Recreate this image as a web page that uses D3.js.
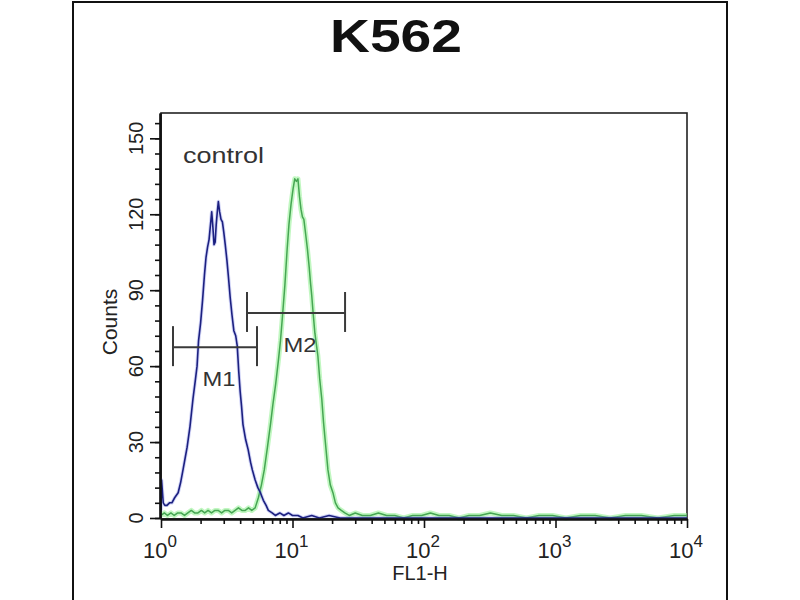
<!DOCTYPE html>
<html><head><meta charset="utf-8">
<script src="https://cdn.jsdelivr.net/npm/d3@7/dist/d3.min.js"></script>
<style>body{margin:0;background:#fff}svg{display:block}</style>
</head><body>
<svg id="c" width="800" height="600"></svg>
<script>
// ---- data ----
const title = "K562";
const sampleLabel = "control";
const xLabel = "FL1-H";
const yLabel = "Counts";
const yTicks = [0, 30, 60, 90, 120, 150];
const xDecades = [0, 1, 2, 3, 4];

// control (blue) histogram
const blueFL = [1.0,1.01,1.02,1.04,1.07,1.11,1.16,1.21,1.27,1.35,1.41,1.47,1.53,1.58,1.66,1.75,1.82,1.88,1.93,2.0,2.07,2.14,2.2,2.26,2.32,2.38,2.43,2.48,2.53,2.58,2.63,2.68,2.73,2.79,2.86,2.93,3.0,3.08,3.17,3.26,3.36,3.47,3.58,3.7,3.8,3.9,4.0,4.1,4.2,4.4,4.6,4.8,4.95,5.2,5.45,5.7,6.0,6.3,6.55,7.0,7.4,8.0,8.6,9.3,10,11,12,14,16,19,23,30,50,100,300,1000,10000];
const blueCount = [3,15,12,6,5,5,6,6,8,10,14,19,24,28,36,47,54,60,70,77,86,96,103,107,110,116,121,115,108,109,116,121,125,121,118,117,113,108,102,95,87,80,74,72,68,58,50,44,37,31,27,22,19,15,12,10,7,5,3,2,1,2,1,2,1,1,0,1,0,1,0,0,0,0,0,0,0];

// stained (green) histogram
const greenFL = [1.0,1.06,1.12,1.19,1.26,1.34,1.42,1.51,1.6,1.7,1.8,1.91,2.03,2.15,2.28,2.42,2.57,2.72,2.89,3.06,3.25,3.45,3.66,3.88,4.12,4.37,4.63,4.9,5.2,5.5,5.8,6.1,6.45,6.8,7.1,7.45,7.8,8.1,8.4,8.75,9.1,9.4,9.75,10.1,10.4,10.7,11.0,11.3,11.6,11.9,12.2,12.6,13.0,13.4,13.7,14.0,14.3,14.8,15.6,16.1,16.7,17.2,17.7,18.6,19.4,20.3,21.2,22.2,23.5,25,27,30,34,39,45,52,60,70,82,96,112,130,155,185,220,265,320,390,480,600,750,950,1200,1550,2000,2600,3400,4500,6000,8000,10000];
const greenCount = [1,2,1,2,1,2,2,1,2,3,2,2,3,2,3,2,3,3,2,3,3,2,3,4,3,3,4,3,4,8,13,19,28,37,45,53,62,70,80,92,106,116,124,130,134,133,134,127,122,119,118,112,106,99,93,88,82,73,64,55,47,38,31,19,13,10,6,4,3,2,1,2,1,1,2,1,1,0,1,1,2,1,1,0,1,1,2,1,1,0,1,1,0,1,1,0,1,1,0,1,1];

// gate markers
const markerNames = ["M1", "M2"];
const markerLo = [1.234, 4.51];
const markerHi = [5.37, 25.1];
const markerLevel = [67.5, 81];

// ---- drawing ----
const svg = d3.select("#c");
const font = "'Liberation Sans', Arial, sans-serif";

// outer frame
svg.append("rect").attr("x", 73).attr("y", 2).attr("width", 654).attr("height", 640)
  .attr("fill", "none").attr("stroke", "#111").attr("stroke-width", 2);

const x = d3.scaleLog().domain([1, 10000]).range([161, 687]);
const y = d3.scaleLinear().domain([0, 160]).range([518, 113]);

// title
svg.append("text").attr("x", 396).attr("y", 52).attr("text-anchor", "middle")
  .attr("font-family", font).attr("font-weight", "bold").attr("font-size", 47)
  .attr("textLength", 132).attr("lengthAdjust", "spacingAndGlyphs")
  .attr("fill", "#111").text(title);

// plot border (top/right)
svg.append("rect").attr("x", x(1)).attr("y", y(160)).attr("width", x(10000) - x(1)).attr("height", y(0) - y(160) + 1)
  .attr("fill", "none").attr("stroke", "#222").attr("stroke-width", 1.6);

const line = d3.line().x(d => x(d[0])).y(d => y(d[1]));
const greenData = greenFL.map((v, i) => [v, greenCount[i]]);
const blueData = blueFL.map((v, i) => [v, blueCount[i]]);

// green series
svg.append("path").attr("d", line(greenData)).attr("fill", "none")
  .attr("stroke", "#8ef08e").attr("stroke-width", 5).attr("stroke-opacity", 0.55).attr("stroke-linejoin", "round");
svg.append("path").attr("d", line(greenData)).attr("fill", "none")
  .attr("stroke", "#46a653").attr("stroke-width", 1.5).attr("stroke-linejoin", "round");

// blue series
svg.append("path").attr("d", line(blueData)).attr("fill", "none")
  .attr("stroke", "#7a84e6").attr("stroke-width", 3.5).attr("stroke-opacity", 0.35).attr("stroke-linejoin", "round");
svg.append("path").attr("d", line(blueData)).attr("fill", "none")
  .attr("stroke", "#1c2080").attr("stroke-width", 1.6).attr("stroke-linejoin", "round");

// axes
const minorX = [];
xDecades.slice(0, -1).forEach(p => { for (let k = 2; k <= 9; k++) minorX.push(k * Math.pow(10, p)); });
const majorX = xDecades.map(p => Math.pow(10, p));

const gx = svg.append("g").attr("transform", `translate(0,${y(0) + 1})`);
gx.call(d3.axisBottom(x).tickValues(minorX).tickSize(5).tickFormat("").tickSizeOuter(0));
gx.append("g").call(d3.axisBottom(x).tickValues(majorX).tickSize(9).tickFormat("").tickSizeOuter(0));
gx.selectAll("path.domain").attr("stroke", "#111").attr("stroke-width", 2.2);
gx.selectAll(".tick line").attr("stroke", "#111").attr("stroke-width", 1.6);

const gy = svg.append("g").attr("transform", `translate(${x(1) - 1},0)`);
gy.call(d3.axisLeft(y).tickValues(d3.range(0, 161, 6)).tickSize(5).tickFormat("").tickSizeOuter(0));
gy.append("g").call(d3.axisLeft(y).tickValues(yTicks).tickSize(10).tickFormat("").tickSizeOuter(0));
gy.selectAll("path.domain").attr("stroke", "#111").attr("stroke-width", 2.2);
gy.selectAll(".tick line").attr("stroke", "#111").attr("stroke-width", 1.6);

// y tick labels (rotated)
svg.selectAll("text.yl").data(yTicks).enter().append("text").attr("class", "yl")
  .attr("transform", d => `translate(143,${y(d)}) rotate(-90)`)
  .attr("text-anchor", "middle").attr("font-family", font).attr("font-size", 20)
  .attr("fill", "#222").text(d => d);

// x tick labels 10^n
const xl = svg.selectAll("text.xl").data(xDecades).enter().append("text").attr("class", "xl")
  .attr("x", d => x(Math.pow(10, d)) - 1).attr("y", 558).attr("text-anchor", "middle")
  .attr("font-family", font).attr("font-size", 22).attr("fill", "#222");
xl.append("tspan").text("10");
xl.append("tspan").attr("dy", -11).attr("font-size", 17).text(d => d);

// axis titles
svg.append("text").attr("x", 420).attr("y", 580).attr("text-anchor", "middle")
  .attr("font-family", font).attr("font-size", 20).attr("fill", "#222").text(xLabel);
svg.append("text").attr("transform", `translate(117,322) rotate(-90)`).attr("text-anchor", "middle")
  .attr("font-family", font).attr("font-size", 21).attr("fill", "#222").text(yLabel);

// sample label
svg.append("text").attr("x", 183).attr("y", 163).attr("font-family", font).attr("font-size", 22)
  .attr("textLength", 81).attr("lengthAdjust", "spacingAndGlyphs").attr("fill", "#333").text(sampleLabel);

// markers
markerNames.forEach((name, i) => {
  const x0 = x(markerLo[i]), x1 = x(markerHi[i]), yy = y(markerLevel[i]);
  const g = svg.append("g").attr("stroke", "#3a3a3a").attr("stroke-width", 2);
  g.append("line").attr("x1", x0).attr("x2", x1).attr("y1", yy).attr("y2", yy);
  g.append("line").attr("x1", x0).attr("x2", x0).attr("y1", yy - 21).attr("y2", yy + 19);
  g.append("line").attr("x1", x1).attr("x2", x1).attr("y1", yy - 21).attr("y2", yy + 19);
  svg.append("text").attr("x", (x0 + x1) / 2 + 4).attr("y", yy + 39).attr("text-anchor", "middle")
    .attr("font-family", font).attr("font-size", 20).attr("textLength", 33).attr("lengthAdjust", "spacingAndGlyphs")
    .attr("fill", "#333").text(name);
});
</script>
</body></html>
